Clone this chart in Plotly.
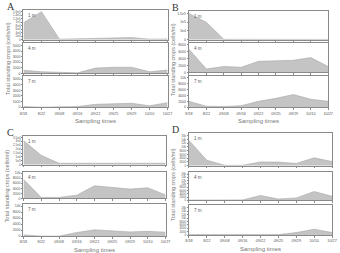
import plotly.graph_objects as go

dates = ["8/18", "8/22", "09/08", "09/16", "09/22", "09/25", "09/29", "10/10", "10/27"]
depths = ["1 m", "4 m", "7 m"]
panels = ["A", "B", "C", "D"]

# Panel A
a_1m = [97000, 160000, 3000, 5000, 8000, 12000, 12000, 3000, 4000]
a_4m = [560, 300, 200, 100, 950, 1100, 1100, 300, 600]
a_7m = [100, 0, 50, 100, 500, 650, 700, 250, 800]
# Panel B
b_1m = [150000, 100000, 2000, 1500, 1500, 1500, 1500, 1500, 1500]
b_4m = [6700, 1000, 1700, 1500, 3200, 3300, 3500, 4300, 1700]
b_7m = [2000, 300, 200, 500, 2000, 3000, 4300, 2700, 2000]
# Panel C
c_1m = [31000, 12000, 1800, 1800, 1800, 1800, 1800, 1800, 1800]
c_4m = [7600, 400, 400, 1300, 5000, 4200, 3700, 4200, 1400]
c_7m = [400, 0, 0, 1200, 2100, 1700, 1400, 1600, 1300]
# Panel D
d_1m = [13500, 2900, 200, 200, 2000, 1900, 1200, 4200, 2200]
d_4m = [200, 200, 200, 300, 3000, 800, 1500, 5400, 2500]
d_7m = [300, 300, 300, 300, 300, 300, 1500, 3500, 1500]

series = [[a_1m, a_4m, a_7m], [b_1m, b_4m, b_7m], [c_1m, c_4m, c_7m], [d_1m, d_4m, d_7m]]

a1_ticks = [0, 20000, 40000, 60000, 80000, 100000, 120000, 140000, 160000]
a1_text = ["0", "2e4", "4e4", "6e4", "8e4", "1e5", "1.2e5", "1.4e5", "1.6e5"]
b1_ticks = [0, 50000, 100000, 150000]
b1_text = ["0", "5e4", "1e5", "1.5e5"]
c1_ticks = [0, 5000, 10000, 15000, 20000, 25000, 30000, 35000]
c1_text = ["0", "5e3", "1e4", "1.5e4", "2e4", "2.5e4", "3e4", "3.5e4"]
k5_ticks = [0, 1000, 2000, 3000, 4000, 5000]
k8_ticks = [0, 2000, 4000, 6000, 8000]
k10_ticks = [0, 2000, 4000, 6000, 8000, 10000]
k16_ticks = [0, 2000, 4000, 6000, 8000, 10000, 12000, 14000, 16000]

# (max range, tick values, tick texts, tick font size)
yspec = [
    [(170000, a1_ticks, a1_text, 3), (5500, k5_ticks, None, 3.5), (5500, k5_ticks, None, 3.5)],
    [(165000, b1_ticks, b1_text, 3.5), (8600, k8_ticks, None, 3.5), (10500, k10_ticks, None, 3.5)],
    [(37000, c1_ticks, c1_text, 3), (10600, k10_ticks, None, 3.5), (10600, k10_ticks, None, 3.5)],
    [(17500, k16_ticks, None, 3), (17500, k16_ticks, None, 3), (17500, k16_ticks, None, 3)],
]

W, H = 340, 253
geo = [
    ((20, 168), [(10, 40), (43, 74), (77, 108)]),
    ((190, 333), [(11, 40), (43, 73), (77, 108)]),
    ((20, 166), [(137, 166), (173, 200), (206, 238)]),
    ((190, 337), [(134, 167), (173, 202), (207, 237)]),
]

def px(x):
    return x / W

def py(y):
    return 1 - y / H

fig = go.Figure()
layout = dict(
    width=W, height=H, margin=dict(l=0, r=0, t=0, b=0),
    paper_bgcolor="white", plot_bgcolor="white", showlegend=False,
    font=dict(family="Liberation Sans, Arial", color="#666"),
)
annotations = []
k = 0
axis_col = "#8a8a8a"
for p in range(4):
    (x0, x1), rows = geo[p]
    for r in range(3):
        k += 1
        xa = "x" if k == 1 else f"x{k}"
        ya = "y" if k == 1 else f"y{k}"
        fig.add_trace(go.Scatter(
            x=dates, y=series[p][r], xaxis=xa, yaxis=ya, mode="lines",
            line=dict(color="#a8a8a8", width=0.6), fill="tozeroy",
            fillcolor="#c4c4c4", hoverinfo="skip"))
        y0, y1 = rows[r]
        ymax, tv, tt, fs = yspec[p][r]
        xkey = "xaxis" if k == 1 else f"xaxis{k}"
        ykey = "yaxis" if k == 1 else f"yaxis{k}"
        layout[xkey] = dict(
            domain=[px(x0), px(x1)], anchor=ya, type="category",
            categoryorder="array", categoryarray=dates, range=[0, 8],
            showgrid=False, zeroline=False, showline=True, mirror=True,
            linecolor=axis_col, linewidth=0.6, ticks="outside", ticklen=2,
            tickcolor=axis_col, tickwidth=0.5,
            showticklabels=(r == 2), tickfont=dict(size=3.8, color="#555"),
            tickangle=0,
        )
        yd = dict(
            domain=[py(y1), py(y0)], anchor=xa, range=[0, ymax],
            showgrid=False, zeroline=False, showline=True, mirror=True,
            linecolor=axis_col, linewidth=0.6, ticks="outside", ticklen=1.5,
            tickcolor=axis_col, tickwidth=0.5, tickvals=tv,
            tickfont=dict(size=fs, color="#555"),
        )
        if tt is not None:
            yd["ticktext"] = tt
        layout[ykey] = yd
        annotations.append(dict(
            x=px(x0 + 3), y=py(y0 + 1), xref="paper", yref="paper",
            text=depths[r], showarrow=False, xanchor="left", yanchor="top",
            font=dict(size=4.5, color="#555")))
    annotations.append(dict(
        x=px(x0 - 19), y=py(rows[0][0] - 11), xref="paper", yref="paper",
        text=panels[p], showarrow=False, xanchor="left", yanchor="top",
        font=dict(size=10, color="#333", family="Liberation Serif, DejaVu Serif")))
    annotations.append(dict(
        x=px(x0 - 16.5), y=py((rows[0][0] + rows[2][1]) / 2), xref="paper", yref="paper",
        text="Total standing crops (cells/ml)", showarrow=False, textangle=-90,
        xanchor="center", yanchor="middle", font=dict(size=5.5, color="#777")))
    annotations.append(dict(
        x=px((x0 + x1) / 2), y=py(rows[2][1] + 9), xref="paper", yref="paper",
        text="Sampling times", showarrow=False, xanchor="center", yanchor="top",
        font=dict(size=6, color="#777")))

layout["annotations"] = annotations
fig.update_layout(**layout)
fig.write_html("out.html")
